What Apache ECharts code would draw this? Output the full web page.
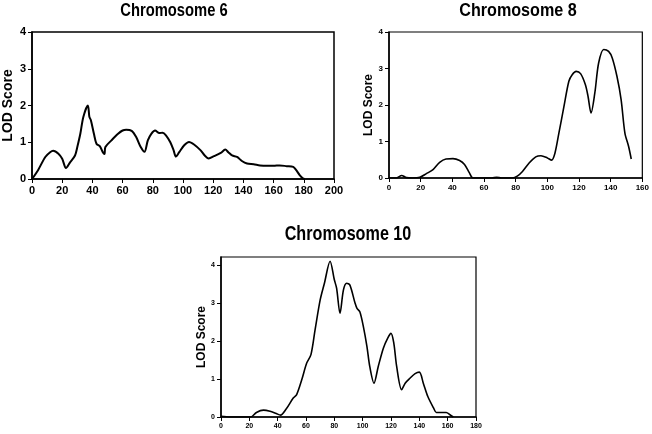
<!DOCTYPE html>
<html>
<head>
<meta charset="utf-8">
<script src="https://cdn.jsdelivr.net/npm/echarts@6/dist/echarts.min.js"></script>
<style>
html,body{margin:0;padding:0;background:#fff;}
#c{width:652px;height:434px;}
</style>
</head>
<body>
<div id="c"></div>
<script>
// Chromosome 6 (cM, LOD)
var chr6Pos = [0,4,8.8,12,14,17.5,20,22.5,25,28.5,30,32,34,37,38,39,41,42.7,45,47,48,48.6,52.6,57,60,62.4,66,69,72,74.5,76.7,79,81.5,84.3,86.5,88.7,91.6,93.8,95.3,97.5,100.8,104,107.3,111.7,114.4,117,120.5,125,128,130,132.5,135.8,139,142.4,146.8,151,155.5,160,164,168.7,173,175,177.4,179.6,180.7];
var chr6Lod = [0,0.24,0.6,0.73,0.77,0.69,0.55,0.3,0.44,0.64,0.87,1.23,1.69,2.0,1.69,1.6,1.23,0.96,0.89,0.72,0.68,0.87,1.05,1.23,1.32,1.34,1.31,1.14,0.87,0.74,1.05,1.23,1.32,1.25,1.26,1.19,1.0,0.78,0.61,0.73,0.92,1.01,0.94,0.78,0.64,0.56,0.62,0.71,0.8,0.73,0.64,0.6,0.49,0.42,0.4,0.37,0.36,0.36,0.37,0.35,0.33,0.24,0.1,0.01,0];
// Chromosome 8
var chr8Pos = [0,4.8,8,11,15,19.5,23.6,27.8,32,36,40.4,44.6,47.7,50.8,53,60,65,68,71,78,81,84.3,88.5,92.7,96,100,102.7,104.8,107.3,110.5,113.6,115.7,118.2,121,124,125.7,127.6,130,132.4,135.6,138.7,141,144,146.6,149,151.3,153];
var chr8Lod = [0,0,0.07,0.01,0,0.02,0.12,0.23,0.43,0.52,0.53,0.48,0.37,0.14,0,0,0,0.02,0,0,0.05,0.18,0.41,0.58,0.61,0.55,0.49,0.68,1.23,1.96,2.65,2.83,2.92,2.86,2.56,2.24,1.78,2.33,3.15,3.52,3.47,3.29,2.78,2.15,1.23,0.87,0.52];
// Chromosome 10
var chr10Pos = [0,6.4,21,25,30,34.6,39,42,46,51,53.4,57,60.5,63.5,66.4,70,73,77,80,81.6,84,86.4,88.7,91,94.6,96,98,100.5,103,105,108,111,114.6,117.6,120,122,124,127.5,130,133.4,137,140,142.8,146,150,152,155.7,159,161.6,164];
var chr10Lod = [0.02,0,0,0.12,0.18,0.15,0.09,0.05,0.21,0.5,0.59,0.98,1.42,1.64,2.29,3.08,3.52,4.1,3.61,3.39,2.73,3.34,3.52,3.47,3.0,2.86,2.77,2.38,1.86,1.33,0.89,1.33,1.81,2.07,2.2,1.94,1.33,0.72,0.89,1.02,1.14,1.18,0.89,0.54,0.24,0.12,0.12,0.12,0.06,0];
var titles = ['Chromosome 6','Chromosome 8','Chromosome 10'];
var yTicks = [0,1,2,3,4];

function pairs(xs, ys){ return xs.map(function(x,i){ return [x, ys[i]]; }); }

var LFONT = '"Liberation Sans",Arial,sans-serif';

function xAx(idx, max, fs){
  return {type:'value', gridIndex:idx, min:0, max:max, interval:20,
    axisLine:{show:true,lineStyle:{color:'#000',width:1.5}},
    axisTick:{show:true,length:4,lineStyle:{color:'#000'}},
    splitLine:{show:false},
    axisLabel:{color:'#000',fontWeight:'bold',fontSize:fs,fontFamily:LFONT,margin:6}};
}
function yAx(idx, max, fs, nameSize, gap){
  return {type:'value', gridIndex:idx, min:0, max:max, interval:1,
    name:'LOD Score', nameLocation:'middle', nameGap:gap,
    nameTextStyle:{color:'#000',fontWeight:'bold',fontSize:nameSize,fontFamily:LFONT},
    axisLine:{show:true,lineStyle:{color:'#000',width:1.5}},
    axisTick:{show:true,length:4,lineStyle:{color:'#000'},customValues:yTicks},
    splitLine:{show:false},
    axisLabel:{color:'#000',fontWeight:'bold',fontSize:fs,fontFamily:LFONT,margin:6,customValues:yTicks}};
}
function titleText(txt, x, y, size, sx){
  return {type:'text', x:x, y:y, scaleX:sx, scaleY:1,
    style:{text:txt, fill:'#000', font:'bold '+size+'px '+LFONT, textAlign:'center', textVerticalAlign:'top'}};
}

var option = {
  backgroundColor:'#fff',
  animation:false,
  graphic:[
    titleText(titles[0], 174, 2, 18, 0.82),
    titleText(titles[1], 518, 1, 19, 0.85),
    titleText(titles[2], 348, 224, 21, 0.77)
  ],
  grid:[
    {left:30, top:32, width:304, height:147, show:true, borderColor:'#000', borderWidth:1.5, backgroundColor:'transparent'},
    {left:389, top:32, width:255, height:146, show:true, borderColor:'#000', borderWidth:1.2, backgroundColor:'transparent'},
    {left:221, top:257, width:255, height:160, show:true, borderColor:'#000', borderWidth:1.2, backgroundColor:'transparent'}
  ],
  xAxis:[ xAx(0,200,11), xAx(1,160,8), xAx(2,180,7) ],
  yAxis:[ yAx(0,4,11,14,17), yAx(1,4,8,12,14), yAx(2,4.21,7,12,13) ],
  series:[
    {type:'line', xAxisIndex:0, yAxisIndex:0, data:pairs(chr6Pos,chr6Lod), showSymbol:false, smooth:0.3, lineStyle:{color:'#000',width:2}},
    {type:'line', xAxisIndex:1, yAxisIndex:1, data:pairs(chr8Pos,chr8Lod), showSymbol:false, smooth:0.3, lineStyle:{color:'#000',width:1.6}},
    {type:'line', xAxisIndex:2, yAxisIndex:2, data:pairs(chr10Pos,chr10Lod), showSymbol:false, smooth:0.3, lineStyle:{color:'#000',width:1.6}}
  ]
};
var chart = echarts.init(document.getElementById('c'), null, {renderer:'canvas'});
chart.setOption(option);
</script>
</body>
</html>
